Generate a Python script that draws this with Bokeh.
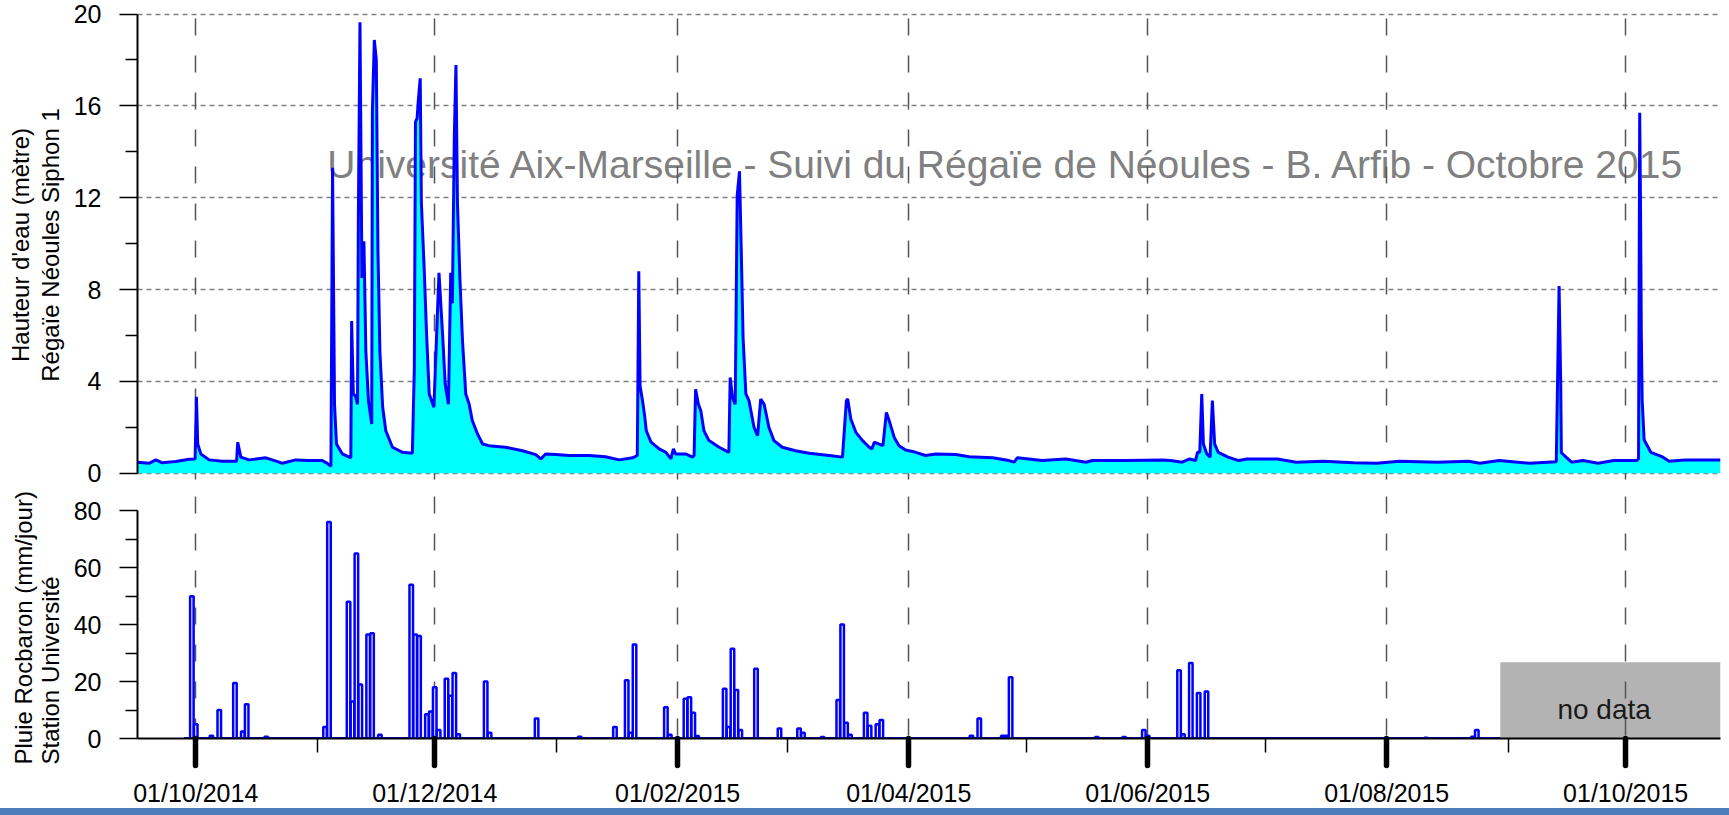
import pandas as pd
from bokeh.plotting import figure
from bokeh.layouts import column
from bokeh.models import (Range1d, FixedTicker, LinearAxis, DatetimeTickFormatter, Grid,
                          Label, BoxAnnotation, ColumnDataSource, Div, Title)
from bokeh.embed import file_html
from bokeh.resources import INLINE

FONT = "Liberation Sans"

# ---------------- data ----------------
water_dates = [
    "2014-09-16 03:00", "2014-09-19 02:00", "2014-09-20 19:00", "2014-09-22 12:00", "2014-09-25 22:00", "2014-09-29 07:00", "2014-09-30 20:00",
    "2014-10-01 04:00", "2014-10-01 12:00", "2014-10-02 07:00", "2014-10-04 10:00", "2014-10-07 19:00", "2014-10-11 10:00", "2014-10-11 17:00",
    "2014-10-12 12:00", "2014-10-14 14:00", "2014-10-18 22:00", "2014-10-22 07:00", "2014-10-23 02:00", "2014-10-26 12:00", "2014-10-29 22:00",
    "2014-11-02 07:00", "2014-11-03 14:00", "2014-11-04 12:00", "2014-11-04 22:00", "2014-11-05 10:00", "2014-11-05 22:00", "2014-11-07 10:00",
    "2014-11-09 14:00", "2014-11-09 19:00", "2014-11-10 05:00", "2014-11-10 19:00", "2014-11-11 07:00", "2014-11-11 12:00", "2014-11-11 22:00",
    "2014-11-12 10:00", "2014-11-12 22:00", "2014-11-13 10:00", "2014-11-14 02:00", "2014-11-14 22:00", "2014-11-15 02:00", "2014-11-15 14:00",
    "2014-11-16 02:00", "2014-11-16 12:00", "2014-11-17 00:00", "2014-11-17 17:00", "2014-11-18 12:00", "2014-11-20 05:00", "2014-11-22 19:00",
    "2014-11-25 07:00", "2014-11-25 19:00", "2014-11-26 02:00", "2014-11-26 12:00", "2014-11-26 19:00", "2014-11-27 07:00", "2014-11-27 14:00",
    "2014-11-28 07:00", "2014-11-28 22:00", "2014-11-29 14:00", "2014-11-30 19:00",
    "2014-12-01 17:00", "2014-12-02 02:00", "2014-12-03 00:00", "2014-12-03 16:00", "2014-12-04 12:00", "2014-12-05 02:00", "2014-12-05 12:00",
    "2014-12-06 00:00", "2014-12-06 10:00", "2014-12-06 19:00", "2014-12-07 10:00", "2014-12-08 02:00", "2014-12-08 22:00", "2014-12-09 19:00",
    "2014-12-10 14:00", "2014-12-11 22:00", "2014-12-13 05:00", "2014-12-14 19:00", "2014-12-19 02:00", "2014-12-23 10:00", "2014-12-26 19:00",
    "2014-12-28 02:00", "2014-12-29 07:00", "2014-12-31 22:00",
    "2015-01-04 07:00", "2015-01-09 10:00", "2015-01-13 14:00", "2015-01-17 02:00", "2015-01-20 12:00", "2015-01-21 17:00", "2015-01-22 02:00",
    "2015-01-22 10:00", "2015-01-23 00:00", "2015-01-23 12:00", "2015-01-24 00:00", "2015-01-25 05:00", "2015-01-27 07:00", "2015-01-29 00:00",
    "2015-01-30 07:00", "2015-01-30 22:00", "2015-01-31 12:00",
    "2015-02-03 00:00", "2015-02-04 19:00", "2015-02-05 05:00", "2015-02-05 14:00", "2015-02-06 07:00", "2015-02-06 22:00", "2015-02-07 17:00",
    "2015-02-09 00:00", "2015-02-11 14:00", "2015-02-14 02:00", "2015-02-14 10:00", "2015-02-15 00:00", "2015-02-15 17:00", "2015-02-16 05:00",
    "2015-02-16 19:00", "2015-02-17 05:00", "2015-02-17 17:00", "2015-02-18 10:00", "2015-02-19 05:00", "2015-02-20 12:00", "2015-02-21 10:00",
    "2015-02-22 05:00", "2015-02-23 02:00", "2015-02-24 07:00", "2015-02-25 14:00", "2015-02-27 17:00",
    "2015-03-03 02:00", "2015-03-06 14:00", "2015-03-11 17:00", "2015-03-15 02:00", "2015-03-16 02:00", "2015-03-16 10:00", "2015-03-17 05:00",
    "2015-03-18 12:00", "2015-03-20 05:00", "2015-03-21 22:00", "2015-03-22 14:00", "2015-03-23 05:00", "2015-03-24 10:00", "2015-03-25 10:00",
    "2015-03-26 07:00", "2015-03-27 00:00", "2015-03-28 07:00", "2015-03-29 12:00", "2015-03-31 05:00",
    "2015-04-02 19:00", "2015-04-05 07:00", "2015-04-07 22:00", "2015-04-13 00:00", "2015-04-16 10:00", "2015-04-22 10:00", "2015-04-26 14:00",
    "2015-04-27 22:00", "2015-04-28 17:00",
    "2015-05-05 02:00", "2015-05-11 02:00", "2015-05-13 14:00", "2015-05-16 05:00", "2015-05-17 22:00", "2015-05-26 10:00",
    "2015-06-04 17:00", "2015-06-06 19:00", "2015-06-09 19:00", "2015-06-11 17:00", "2015-06-13 05:00", "2015-06-13 17:00", "2015-06-14 07:00",
    "2015-06-14 19:00", "2015-06-15 05:00", "2015-06-16 02:00", "2015-06-16 22:00", "2015-06-17 12:00", "2015-06-18 02:00", "2015-06-19 00:00",
    "2015-06-21 12:00", "2015-06-24 05:00", "2015-06-26 07:00",
    "2015-07-04 02:00", "2015-07-08 22:00", "2015-07-15 19:00", "2015-07-23 14:00", "2015-07-29 10:00",
    "2015-08-04 07:00", "2015-08-14 00:00", "2015-08-21 22:00", "2015-08-24 19:00", "2015-08-29 17:00",
    "2015-09-06 12:00", "2015-09-13 07:00", "2015-09-14 00:00", "2015-09-14 10:00", "2015-09-14 14:00", "2015-09-15 19:00", "2015-09-17 05:00",
    "2015-09-20 02:00", "2015-09-24 00:00", "2015-09-27 22:00",
    "2015-10-03 19:00", "2015-10-04 07:00", "2015-10-04 14:00", "2015-10-04 19:00", "2015-10-05 00:00", "2015-10-05 05:00", "2015-10-05 17:00",
    "2015-10-07 10:00", "2015-10-10 10:00", "2015-10-12 02:00", "2015-10-16 05:00", "2015-10-25 05:00",
]
water_m = [
    0.48, 0.43, 0.58, 0.45, 0.51, 0.61, 0.62,
    3.33, 1.27, 0.84, 0.58, 0.52, 0.52, 1.35,
    0.70, 0.58, 0.67, 0.48, 0.43, 0.58, 0.55,
    0.55, 0.43, 0.30, 13.3, 3.0, 1.27, 0.84,
    0.67, 6.63, 3.45, 3.37, 3.0, 11.1, 19.64,
    8.5, 10.1, 5.3, 3.15, 2.14, 15.75, 18.87,
    18.0, 9.7, 5.3, 2.87, 1.85, 1.13, 0.91,
    0.87, 4.6, 15.3, 15.46, 16.2, 17.2, 11.8,
    8.95, 6.05, 3.45, 2.87,
    7.07, 8.73, 6.05, 3.88, 3.0, 8.73, 7.4,
    14.7, 17.78, 11.8, 8.5, 5.76, 3.45, 3.0,
    2.29, 1.71, 1.27, 1.2, 1.13, 0.98, 0.81,
    0.62, 0.84, 0.81,
    0.77, 0.77, 0.72, 0.58, 0.67, 0.77, 8.8,
    3.8, 3.2, 2.6, 1.85, 1.35, 1.06, 0.91,
    0.62, 1.06, 0.84,
    0.84, 0.70, 0.77, 3.66, 3.01, 2.72, 1.85,
    1.42, 1.13, 0.91, 4.17, 3.3, 3.0, 12.1,
    13.15, 9.96, 5.9, 3.45, 3.16, 2.0, 1.64,
    3.23, 3.0, 2.0, 1.42, 1.13,
    0.98, 0.87, 0.77, 0.70, 3.16, 3.23, 2.36,
    1.78, 1.42, 1.13, 1.06, 1.35, 1.27, 1.2,
    2.65, 2.29, 1.56, 1.2, 1.01,
    0.91, 0.77, 0.84, 0.81, 0.72, 0.67, 0.55,
    0.48, 0.67,
    0.55, 0.62, 0.55, 0.48, 0.55, 0.55,
    0.58, 0.55, 0.48, 0.62, 0.55, 0.91, 0.91,
    3.45, 1.27, 0.84, 0.70, 3.16, 1.27, 0.91,
    0.70, 0.55, 0.62,
    0.62, 0.48, 0.52, 0.45, 0.43,
    0.52, 0.48, 0.52, 0.43, 0.55,
    0.43, 0.50, 8.15, 4.0, 0.89, 0.70, 0.48,
    0.55, 0.43, 0.55,
    0.55, 0.62, 15.7, 11.6, 6.0, 3.2, 1.46,
    0.91, 0.71, 0.52, 0.58, 0.58,
]
assert len(water_dates) == len(water_m)

rain_dates = [
    "2014-09-30", "2014-10-01", "2014-10-05", "2014-10-07", "2014-10-11", "2014-10-13", "2014-10-14", "2014-10-19",
    "2014-11-03", "2014-11-04", "2014-11-09", "2014-11-10", "2014-11-11", "2014-11-12", "2014-11-14", "2014-11-15", "2014-11-17",
    "2014-11-25", "2014-11-26", "2014-11-27", "2014-11-29", "2014-11-30", "2014-12-01", "2014-12-02", "2014-12-04", "2014-12-05",
    "2014-12-06", "2014-12-07", "2014-12-14", "2014-12-15", "2014-12-27",
    "2015-01-07", "2015-01-16", "2015-01-19", "2015-01-20", "2015-01-21", "2015-01-29", "2015-01-30",
    "2015-02-03", "2015-02-04", "2015-02-05", "2015-02-06", "2015-02-13", "2015-02-14", "2015-02-15", "2015-02-16", "2015-02-17",
    "2015-02-21", "2015-02-27",
    "2015-03-04", "2015-03-05", "2015-03-10", "2015-03-14", "2015-03-15", "2015-03-16", "2015-03-17", "2015-03-21", "2015-03-22",
    "2015-03-24", "2015-03-25",
    "2015-04-17", "2015-04-19", "2015-04-25", "2015-04-26", "2015-04-27",
    "2015-05-19", "2015-05-26", "2015-05-31", "2015-06-01",
    "2015-06-09", "2015-06-10", "2015-06-12", "2015-06-14", "2015-06-16",
    "2015-08-11", "2015-08-23", "2015-08-24",
]
rain_mm = [
    50, 5, 1, 10, 19.5, 2.5, 12, 0.6,
    4, 76, 48, 13, 65, 19, 36.5, 37, 1.3,
    54, 36.5, 36, 8.5, 9.5, 18, 3, 21, 15,
    23, 1.5, 20, 2, 7,
    0.6, 4, 20.5, 2, 33, 11, 1.3,
    14, 14.5, 9, 0.9, 17.5, 4, 31.5, 17, 3,
    24.5, 3.5,
    3.5, 2, 0.5, 13.5, 40, 5.5, 1.3, 9, 4.5,
    5, 6.5,
    1, 7, 1, 1, 21.5,
    0.5, 0.5, 3, 1,
    24, 1.5, 26.5, 16, 16.5,
    0.3, 0.6, 3,
]
assert len(rain_dates) == len(rain_mm)

rain_period = ["2014-09-28", "2015-08-30"]
no_data_period = ["2015-08-30", "2015-10-25 05:00"]
no_data_top = 26.8
no_data_text_pos = ("2015-09-25 12:00", 10.3)

date_ticks = ["2014-10-01", "2014-12-01", "2015-02-01", "2015-04-01", "2015-06-01", "2015-08-01", "2015-10-01"]
month_ticks = ["2014-11-01", "2015-01-01", "2015-03-01", "2015-05-01", "2015-07-01", "2015-09-01"]
water_ticks = [0, 4, 8, 12, 16, 20]
water_minor = [2, 6, 10, 14, 18]
rain_ticks = [0, 20, 40, 60, 80]
rain_minor = [10, 30, 50, 70]

watermark = "Université Aix-Marseille - Suivi du Régaïe de Néoules - B. Arfib - Octobre 2015"
watermark_pos = ("2014-11-03 14:00", 13.45)


def ms(s):
    return pd.Timestamp(s).value / 1e6


major_ms = [ms(d) for d in date_ticks]
minor_ms = [ms(d) for d in month_ticks]

W = 1729
x_range = Range1d(start=ms(water_dates[0]), end=ms(water_dates[-1]))


def style_axis(ax, major_out=18, minor_out=12):
    ax.axis_line_color = "black"
    ax.axis_line_width = 2
    ax.major_tick_line_color = "black"
    ax.minor_tick_line_color = "black"
    ax.major_tick_in = 0
    ax.minor_tick_in = 0
    ax.major_tick_out = major_out
    ax.minor_tick_out = minor_out
    ax.major_tick_line_width = 1.5
    ax.minor_tick_line_width = 1.5
    ax.major_label_text_font = FONT
    ax.major_label_text_font_size = "25px"
    ax.major_label_text_color = "black"
    ax.major_label_standoff = 18


def label_axis(text, bounds, standoff):
    return LinearAxis(ticker=FixedTicker(ticks=[]), bounds=bounds, axis_line_color=None,
                      major_tick_out=0, major_tick_in=0, minor_tick_out=0, minor_tick_in=0,
                      major_label_standoff=0, axis_label=text, axis_label_standoff=standoff,
                      axis_label_text_font=FONT, axis_label_text_font_size="24px",
                      axis_label_text_font_style="normal", axis_label_text_color="black")


# ---------------- top panel: water height ----------------
top = figure(width=W, height=489, x_range=x_range, y_range=Range1d(-0.71, 20.588),
             x_axis_type="datetime", x_axis_location=None, output_backend="svg",
             toolbar_location=None, min_border_left=135, min_border_right=9,
             min_border_top=0, min_border_bottom=0)
top.outline_line_color = None

ya = top.yaxis[0]
ya.ticker = FixedTicker(ticks=water_ticks, minor_ticks=water_minor)
ya.bounds = (0, 20)
style_axis(ya)
top.add_layout(label_axis("Régaïe Néoules Siphon 1", (0, 20), 7), "left")
top.add_layout(label_axis("Hauteur d'eau (mètre)", (0, 20), 0), "left")

wm = Label(x=ms(watermark_pos[0]), y=watermark_pos[1], text=watermark, text_font=FONT,
           text_font_size="39px", text_color="#808080", text_baseline="middle",
           text_align="left", level="underlay")
vgrid_top = Grid(dimension=0, ticker=FixedTicker(ticks=major_ms), grid_line_color="#555555",
                 grid_line_width=1.5, grid_line_dash="17 20", grid_line_dash_offset=27)
hgrid_top = Grid(dimension=1, ticker=FixedTicker(ticks=water_ticks), grid_line_color="#808080",
                 grid_line_width=1.3, grid_line_dash="5 4")
top.center = [wm, hgrid_top, vgrid_top]

wsrc = ColumnDataSource(dict(x=pd.to_datetime(water_dates), y=water_m))
top.varea(x="x", y1=0, y2="y", source=wsrc, fill_color="#00ffff")
top.line(x="x", y="y", source=wsrc, line_color="#0000ff", line_width=3)

# ---------------- bottom panel: rain ----------------
bot = figure(width=W, height=326, x_range=x_range, y_range=Range1d(0, 87.45),
             x_axis_type="datetime", output_backend="svg", toolbar_location=None,
             min_border_left=135, min_border_right=9, min_border_top=0, min_border_bottom=77)
bot.outline_line_color = None

xa = bot.xaxis[0]
xa.ticker = FixedTicker(ticks=major_ms, minor_ticks=minor_ms)
fmt = "%d/%m/%Y"
xa.formatter = DatetimeTickFormatter(microseconds=fmt, milliseconds=fmt, seconds=fmt, minsec=fmt,
                                     minutes=fmt, hourmin=fmt, hours=fmt, days=fmt, months=fmt, years=fmt)
style_axis(xa)
xa.major_tick_out = 27
xa.major_tick_line_width = 5.5
xa.major_tick_line_cap = "round"
xa.minor_tick_out = 14
xa.major_label_standoff = 13

yb = bot.yaxis[0]
yb.ticker = FixedTicker(ticks=rain_ticks, minor_ticks=rain_minor)
yb.bounds = (0, 80)
style_axis(yb)
rain_title = Title(text="Pluie Rocbaron (mm/jour)\nStation Université", align="left", offset=-26,
                   standoff=14, vertical_align="bottom", text_font=FONT, text_font_size="24px",
                   text_font_style="normal", text_color="black", text_line_height=1.0)
bot.add_layout(rain_title, "left")

nd_box = BoxAnnotation(left=ms(no_data_period[0]), right=ms(no_data_period[1]), bottom=0,
                       top=no_data_top, fill_color="#b3b3b3", fill_alpha=1.0,
                       line_color=None, level="underlay")
vgrid_bot = Grid(dimension=0, ticker=FixedTicker(ticks=major_ms), grid_line_color="#555555",
                 grid_line_width=1.5, grid_line_dash="17 20", grid_line_dash_offset=34)
nd_label = Label(x=ms(no_data_text_pos[0]), y=no_data_text_pos[1], text="no data",
                 text_font=FONT, text_font_size="28px", text_color="#1a1a1a",
                 text_align="center", text_baseline="middle")
bot.center = [nd_box, vgrid_bot, nd_label]

bot.segment(x0=[ms(rain_period[0])], y0=[0], x1=[ms(rain_period[1])], y1=[0],
            line_color="#0000ff", line_width=3)
rsrc = ColumnDataSource(dict(x=pd.to_datetime(rain_dates), top=rain_mm))
bot.vbar(x="x", top="top", bottom=0, width=0.9 * 86400000, source=rsrc,
         fill_color="white", line_color="#0000ff", line_width=2.5)

band = Div(text="", width=W, height=7, margin=0,
           styles={"position": "fixed", "left": "0px", "bottom": "0px", "width": "100%",
                   "height": "7px", "background-color": "#4a7dba"})

layout = column(top, bot, spacing=0)
open("out.html", "w").write(file_html([layout, band], INLINE, title="Régaïe de Néoules"))
